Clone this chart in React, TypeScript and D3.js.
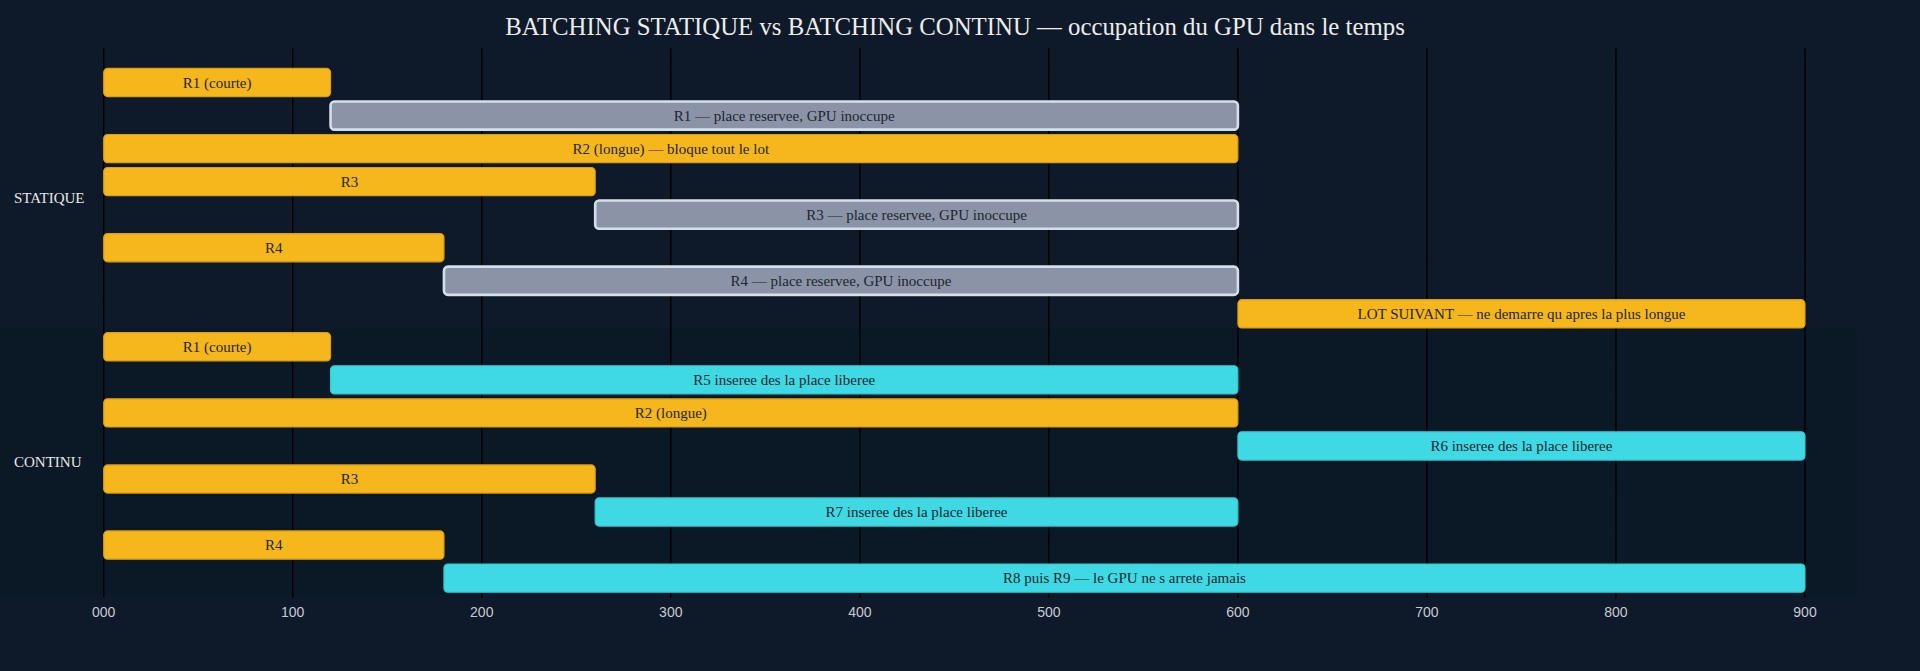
import React, { useEffect, useRef } from "react";
import * as d3 from "d3";

// sections du diagramme et nombre de lignes de chaque section
const sectionNames = ["STATIQUE", "CONTINU"];
const sectionRows = [8, 8];

// taches (une ligne chacune), dans l'ordre d'affichage
const taskLabels = [
  "R1 (courte)",
  "R1 — place reservee, GPU inoccupe",
  "R2 (longue) — bloque tout le lot",
  "R3",
  "R3 — place reservee, GPU inoccupe",
  "R4",
  "R4 — place reservee, GPU inoccupe",
  "LOT SUIVANT — ne demarre qu apres la plus longue",
  "R1 (courte)",
  "R5 inseree des la place liberee",
  "R2 (longue)",
  "R6 inseree des la place liberee",
  "R3",
  "R7 inseree des la place liberee",
  "R4",
  "R8 puis R9 — le GPU ne s arrete jamais",
];
const taskStart = [0, 120, 0, 0, 260, 0, 180, 600, 0, 120, 0, 600, 0, 260, 0, 180];
const taskEnd = [120, 600, 600, 260, 600, 180, 600, 900, 120, 600, 600, 900, 260, 600, 180, 900];
// actif = requete en calcul, reserve = place bloquee, insere = requete ajoutee en continu
const taskKind = [
  "actif", "reserve", "actif", "actif", "reserve", "actif", "reserve", "actif",
  "actif", "insere", "actif", "insere", "actif", "insere", "actif", "insere",
];

const tickValues = [0, 100, 200, 300, 400, 500, 600, 700, 800, 900];
const tickLabels = ["000", "100", "200", "300", "400", "500", "600", "700", "800", "900"];

const title = "BATCHING STATIQUE vs BATCHING CONTINU — occupation du GPU dans le temps";

const WIDTH = 1920;
const HEIGHT = 671;

const kindFill: Record<string, string> = {
  actif: "#f5b71b",
  reserve: "#8a94a6",
  insere: "#3fd9e3",
};
const kindStroke: Record<string, string> = {
  actif: "#d99e12",
  reserve: "#d5dfeb",
  insere: "#33c7d2",
};
const kindStrokeWidth: Record<string, number> = {
  actif: 1.2,
  reserve: 2.6,
  insere: 1.2,
};

const App: React.FC = () => {
  const svgRef = useRef<SVGSVGElement | null>(null);

  useEffect(() => {
    if (svgRef.current) {
      drawChart();
    }
  }, []);

  const drawChart = () => {
    const svg = d3.select(svgRef.current);
    svg.selectAll("*").remove();

    const nRows = taskLabels.length;
    const rowGap = 33.04;
    const rowTop = 65.65;
    const barHeight = 28.2;

    const x = d3.scaleLinear().domain([0, 900]).range([103.7, 1805]);
    const y = d3
      .scaleLinear()
      .domain([0, nRows])
      .range([rowTop, rowTop + nRows * rowGap]);

    svg
      .append("rect")
      .attr("width", WIDTH)
      .attr("height", HEIGHT)
      .attr("fill", "#0e1a2a");

    // fond des sections (une bande par ligne)
    const sectionBg = ["#0e1a2a", "#0b1826"];
    let rowIdx = 0;
    sectionRows.forEach((n, s) => {
      svg
        .append("g")
        .selectAll("rect")
        .data(d3.range(rowIdx, rowIdx + n))
        .join("rect")
        .attr("x", 0)
        .attr("y", (d) => y(d))
        .attr("width", 1857)
        .attr("height", rowGap)
        .attr("fill", sectionBg[s]);
      rowIdx += n;
    });

    // grille verticale
    svg
      .append("g")
      .selectAll("line")
      .data(tickValues)
      .join("line")
      .attr("x1", (d) => x(d))
      .attr("x2", (d) => x(d))
      .attr("y1", 48.3)
      .attr("y2", 597.7)
      .attr("stroke", "#000000")
      .attr("stroke-width", 1.4);

    svg
      .append("g")
      .selectAll("text")
      .data(tickValues)
      .join("text")
      .attr("x", (d) => x(d))
      .attr("y", 611.7)
      .attr("dy", "0.35em")
      .attr("text-anchor", "middle")
      .style("font-family", "'Liberation Sans', Arial, sans-serif")
      .style("font-size", "14px")
      .style("fill", "#c6cbd2")
      .text((d, i) => tickLabels[i]);

    // barres
    const idx = d3.range(nRows);
    svg
      .append("g")
      .selectAll("rect")
      .data(idx)
      .join("rect")
      .attr("x", (i) => x(taskStart[i]))
      .attr("y", (i) => y(i) + 2.75)
      .attr("width", (i) => x(taskEnd[i]) - x(taskStart[i]))
      .attr("height", barHeight)
      .attr("rx", 4)
      .attr("ry", 4)
      .attr("fill", (i) => kindFill[taskKind[i]])
      .attr("stroke", (i) => kindStroke[taskKind[i]])
      .attr("stroke-width", (i) => kindStrokeWidth[taskKind[i]]);

    svg
      .append("g")
      .selectAll("text")
      .data(idx)
      .join("text")
      .attr("x", (i) => (x(taskStart[i]) + x(taskEnd[i])) / 2)
      .attr("y", (i) => y(i) + 2.75 + barHeight / 2)
      .attr("dy", "0.35em")
      .attr("text-anchor", "middle")
      .style("font-family", "'Liberation Serif', 'Times New Roman', serif")
      .style("font-size", "15px")
      .style("fill", "#1e2530")
      .text((i) => taskLabels[i]);

    // titres des sections
    let start = 0;
    sectionRows.forEach((n, s) => {
      svg
        .append("text")
        .attr("x", 14)
        .attr("y", y(start + n / 2))
        .attr("dy", "0.35em")
        .style("font-family", "'Liberation Serif', 'Times New Roman', serif")
        .style("font-size", "15px")
        .style("fill", "#e8e8e8")
        .text(sectionNames[s]);
      start += n;
    });

    svg
      .append("text")
      .attr("x", 955)
      .attr("y", 35)
      .attr("text-anchor", "middle")
      .style("font-family", "'Liberation Serif', 'Times New Roman', serif")
      .style("font-size", "24.8px")
      .style("fill", "#ececec")
      .text(title);
  };

  return (
    <svg
      ref={svgRef}
      width={WIDTH}
      height={HEIGHT}
      style={{ position: "absolute", left: 0, top: 0, display: "block" }}
    ></svg>
  );
};

export default App;
